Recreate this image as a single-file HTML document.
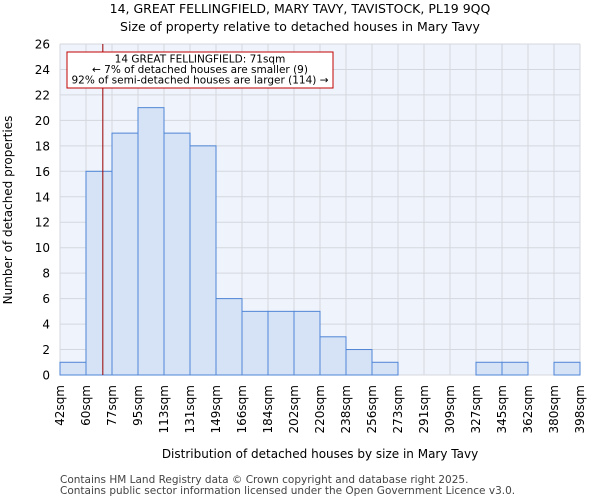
<!DOCTYPE html>
<html><head><meta charset="utf-8"><style>
body{margin:0;background:#fff;font-family:"DejaVu Sans","Liberation Sans",sans-serif;}
text{font-family:"DejaVu Sans","Liberation Sans",sans-serif;}
</style></head><body>
<svg id="chart" width="600" height="500" xmlns="http://www.w3.org/2000/svg">
<text x="300" y="13" text-anchor="middle" font-size="12.5">14, GREAT FELLINGFIELD, MARY TAVY, TAVISTOCK, PL19 9QQ</text>
<text x="300" y="31" text-anchor="middle" font-size="12.5">Size of property relative to detached houses in Mary Tavy</text>
<rect x="60" y="44" width="520" height="331" fill="#eff3fb"/>
<g id="grid"></g><g id="bars"></g><g id="axes"></g>
<text transform="translate(12,210) rotate(-90)" text-anchor="middle" font-size="12">Number of detached properties</text>
<text x="320" y="458" text-anchor="middle" font-size="12">Distribution of detached houses by size in Mary Tavy</text>
<text x="60" y="483" font-size="10.5" fill="#444">Contains HM Land Registry data © Crown copyright and database right 2025.</text>
<text x="60" y="494" font-size="10.5" fill="#444">Contains public sector information licensed under the Open Government Licence v3.0.</text>
</svg>
<script>
const binLabels=["42sqm","60sqm","77sqm","95sqm","113sqm","131sqm","149sqm","166sqm","184sqm","202sqm","220sqm","238sqm","256sqm","273sqm","291sqm","309sqm","327sqm","345sqm","362sqm","380sqm","398sqm"];
const binEdges=[42,60,77,95,113,131,149,166,184,202,220,238,256,273,291,309,327,345,362,380,398];
const counts=[1,16,19,21,19,18,6,5,5,5,3,2,1,0,0,0,1,1,0,1];
const yTicks=[0,2,4,6,8,10,12,14,16,18,20,22,24,26];
const propertySize=71;
const NS="http://www.w3.org/2000/svg";
const X0=60,X1=580,Y0=375,Y1=44,yMax=26;
const nb=counts.length,bw=(X1-X0)/nb;
const xi=i=>X0+i*bw;
const y=v=>Y0-(v/yMax)*(Y0-Y1);
function xv(v){for(let i=0;i<binEdges.length-1;i++){if(v<=binEdges[i+1])return xi(i)+(v-binEdges[i])/(binEdges[i+1]-binEdges[i])*bw;}return X1;}
function mk(t,a,p){const e=document.createElementNS(NS,t);for(const k in a)e.setAttribute(k,a[k]);p.appendChild(e);return e;}
const grid=document.getElementById('grid'),bars=document.getElementById('bars'),axes=document.getElementById('axes');
yTicks.forEach(t=>{const l=mk('line',{x1:X0,x2:X1,y1:y(t),y2:y(t),stroke:'#d4d7de','stroke-width':1},grid);

const tx=mk('text',{x:X0-10,y:y(t)+4.5,'text-anchor':'end','font-size':12},axes);tx.textContent=t;
});
binLabels.forEach((s,i)=>{const l=mk('line',{x1:xi(i),x2:xi(i),y1:Y1,y2:Y0,stroke:'#d4d7de','stroke-width':1},grid);

const tx=mk('text',{transform:`translate(${xi(i)+4},${Y0+10}) rotate(-90)`,'text-anchor':'end','font-size':12},axes);tx.textContent=s;
});
counts.forEach((c,i)=>{if(c<=0)return;const r=mk('rect',{x:xi(i),y:y(c),width:bw,height:Y0-y(c),fill:'#d6e2f5',stroke:'#4f85d6','stroke-width':1},bars);
});
const px=xv(propertySize);
const ml=mk('line',{x1:px,x2:px,y1:Y1,y2:Y0,stroke:'#990000','stroke-width':1},axes);

const bx=mk('rect',{x:67,y:52,width:266,height:36,fill:'#fff',stroke:'#c00000','stroke-width':1},axes);

["14 GREAT FELLINGFIELD: "+propertySize+"sqm","← 7% of detached houses are smaller (9)","92% of semi-detached houses are larger (114) →"].forEach((s,k)=>{
const t=mk('text',{x:200,y:62.5+k*10.5,'text-anchor':'middle','font-size':10.5},axes);t.textContent=s;
});
</script>
</body></html>
